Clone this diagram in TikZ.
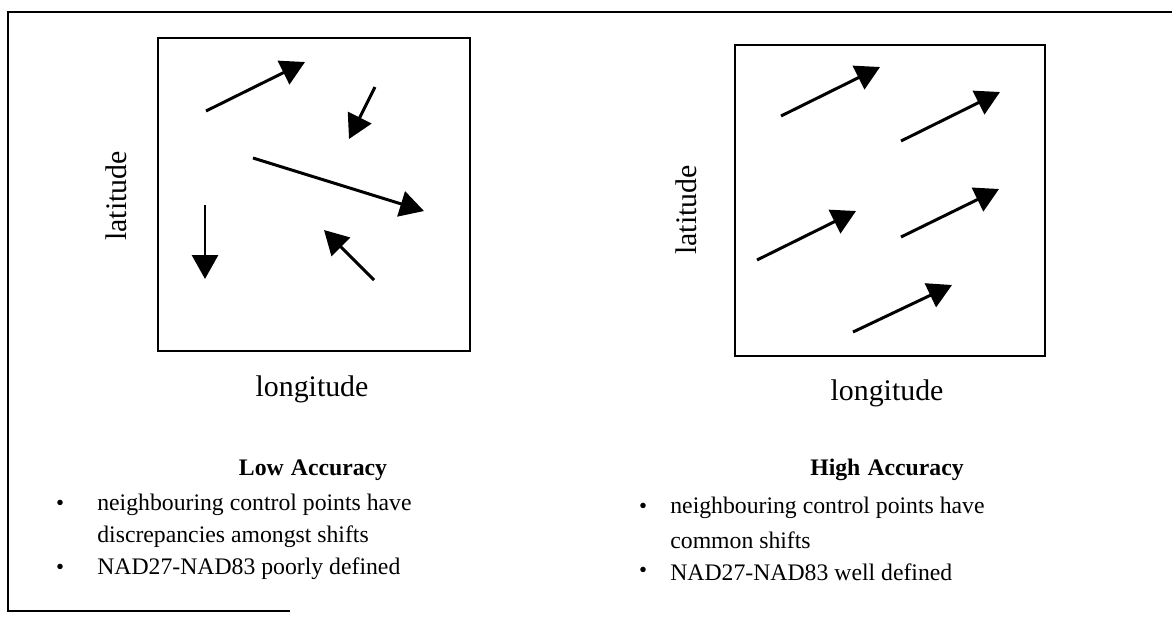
\documentclass[tikz,border=0pt]{standalone}
\usepackage{fontspec}
\setmainfont{Liberation Serif}
\usetikzlibrary{arrows.meta}

\begin{document}
\begin{tikzpicture}[x=0.02cm,y=-0.02cm,>={Triangle[length=0.48cm,width=0.52cm]},
    shiftarrow/.style={->,line width=1.7pt},
    gridbox/.style={line width=1.3pt},
    axislabel/.style={font=\fontsize{17}{20}\selectfont,inner sep=0pt},
    headline/.style={font=\fontsize{13.5}{16}\selectfont\bfseries,inner sep=0pt},
    bodytext/.style={font=\fontsize{13.5}{16}\selectfont,anchor=west,inner sep=0pt},
    bulletmark/.style={font=\fontsize{13}{16}\selectfont,inner sep=0pt}]
        \useasboundingbox (0,0) rectangle (1172,620);
        % outer frame (open on the right)
        \draw [line width=1.1pt] (1172,12) -- (8,12) -- (8,611) -- (290,611);
        % low accuracy panel
        \draw [gridbox] (158,38) rectangle (470,351);
        \draw [shiftarrow] (206,111) -- (305,62);
        \draw [shiftarrow] (375,87) -- (349,139);
        \draw [shiftarrow] (253,158) -- (424,211);
        \draw [shiftarrow] (205,205) -- (205,279);
        \draw [shiftarrow] (374,280) -- (324,230);
        \node [axislabel,rotate=90] (latlow) at (116,196) {latitude};
        \node [axislabel] (lonlow) at (312,389) {longitude};
        % high accuracy panel
        \draw [gridbox] (735,45) rectangle (1045,356);
        \draw [shiftarrow] (781,116) -- (880,67);
        \draw [shiftarrow] (901,141) -- (1000,92);
        \draw [shiftarrow] (757,260) -- (856,211);
        \draw [shiftarrow] (901,237) -- (999,189);
        \draw [shiftarrow] (853,332) -- (952,285);
        \node [axislabel,rotate=90] (lathigh) at (686,210) {latitude};
        \node [axislabel] (lonhigh) at (887,393) {longitude};
        % captions
        \node [headline] (lowhead) at (313,470) {Low\hspace{0.3em}Accuracy};
        \node [bulletmark] (lowdoti) at (60,505) {\textbullet};
        \node [bodytext] (lowi) at (97,505) {neighbouring control points have};
        \node [bodytext] (lowii) at (97,537) {discrepancies amongst shifts};
        \node [bulletmark] (lowdotii) at (60,569) {\textbullet};
        \node [bodytext] (lowiii) at (97,569) {NAD27-NAD83 poorly defined};
        \node [headline] (highhead) at (887,470) {High\hspace{0.3em}Accuracy};
        \node [bulletmark] (highdoti) at (643,508) {\textbullet};
        \node [bodytext] (highi) at (670,508) {neighbouring control points have};
        \node [bodytext] (highii) at (670,540) {common shifts};
        \node [bulletmark] (highdotii) at (643,572) {\textbullet};
        \node [bodytext] (highiii) at (670,572) {NAD27-NAD83 well defined};
    \end{tikzpicture}
\end{document}
